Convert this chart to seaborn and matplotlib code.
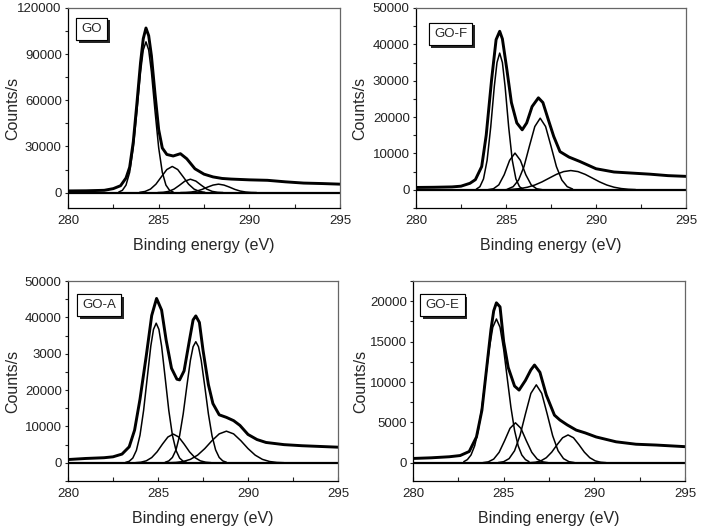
import matplotlib
matplotlib.use("Agg")
import matplotlib.pyplot as plt
import matplotlib.patheffects as pe
from matplotlib.ticker import MultipleLocator
import seaborn as sns

sns.set_style("ticks")
plt.rcParams["font.family"] = ["Liberation Sans", "DejaVu Sans"]

# ---- GO ----
go_env_x = [280, 281, 282, 282.5, 282.9, 283.2, 283.4, 283.6, 283.8, 284.0, 284.15, 284.3, 284.45,
            284.6, 284.8, 285.0, 285.2, 285.45, 285.8, 286.2, 286.55, 287.0, 287.5, 288.0, 288.5,
            289, 290, 291, 292, 293, 294, 295]
go_env_y = [1100, 1200, 1500, 2600, 4500, 9500, 16500, 33000, 58000, 84500, 100000, 107000, 102000,
            89000, 64000, 41000, 29000, 24800, 23800, 25300, 22000, 15500, 12000, 10200, 9200,
            8800, 8300, 8000, 7000, 6200, 5900, 5500]
go_c1_x = [282.8, 283.0, 283.2, 283.4, 283.6, 283.8, 284.0, 284.15, 284.3, 284.45, 284.6, 284.8,
           285.0, 285.2, 285.4, 285.6, 285.8]
go_c1_y = [380, 1500, 4900, 13200, 29200, 52900, 78500, 92700, 98000, 92700, 78500, 52900,
           29200, 13200, 4900, 1500, 380]
go_c2_x = [283.95, 284.25, 284.55, 284.85, 285.15, 285.45, 285.75, 286.05, 286.35, 286.65,
           286.95, 287.25, 287.55]
go_c2_y = [190, 750, 2300, 5500, 10300, 15000, 17000, 15000, 10300, 5500, 2300, 750, 190]
go_c3_x = [284.95, 285.25, 285.55, 285.85, 286.15, 286.45, 286.75, 287.05, 287.35, 287.65,
           287.95, 288.25, 288.55]
go_c3_y = [40, 210, 800, 2300, 4800, 7500, 8700, 7500, 4800, 2300, 800, 210, 40]
go_c4_x = [286.2, 286.5, 286.8, 287.1, 287.4, 287.7, 288.0, 288.3, 288.6, 288.9, 289.2, 289.5,
           289.8, 290.1, 290.4]
go_c4_y = [30, 120, 390, 1000, 2100, 3600, 4900, 5500, 4900, 3600, 2100, 1000, 390, 120, 30]

# ---- GO-F ----
gof_env_x = [280, 281, 282, 282.5, 283.0, 283.3, 283.65, 283.9, 284.2, 284.45, 284.65, 284.8,
             285.05, 285.3, 285.6, 285.9, 286.15, 286.45, 286.8, 287.05, 287.35, 287.65, 288.0,
             288.5, 289.1, 290, 291, 292, 293, 294, 295]
gof_env_y = [650, 700, 800, 1000, 1800, 2800, 6400, 15000, 30300, 41300, 43600, 41500,
             33000, 24000, 18400, 16500, 18400, 22900, 25300, 24000, 19300, 14700, 10500,
             9000, 7800, 5800, 4900, 4600, 4300, 3900, 3700]
gof_c1_x = [283.35, 283.55, 283.75, 283.95, 284.15, 284.35, 284.5, 284.65, 284.8, 284.95,
            285.15, 285.35, 285.55, 285.75, 285.95]
gof_c1_y = [190, 860, 3000, 8100, 17200, 28400, 35000, 37600, 35000, 28400, 17200, 8100,
            3000, 860, 190]
gof_c2_x = [284.0, 284.3, 284.6, 284.9, 285.2, 285.5, 285.8, 286.1, 286.4, 286.7, 287.0]
gof_c2_y = [40, 290, 1360, 4150, 8100, 10100, 8100, 4150, 1360, 290, 40]
gof_c3_x = [285.1, 285.4, 285.7, 286.0, 286.3, 286.6, 286.9, 287.2, 287.5, 287.8, 288.1,
            288.4, 288.7]
gof_c3_y = [220, 870, 2700, 6400, 12000, 17400, 19700, 17400, 12000, 6400, 2700, 870, 220]
gof_c4_x = [285.0, 285.4, 285.8, 286.2, 286.6, 287.0, 287.4, 287.8, 288.2, 288.6, 289.0,
            289.4, 289.8, 290.2, 290.6, 291.0, 291.4, 291.8, 292.2]
gof_c4_y = [60, 150, 350, 720, 1320, 2180, 3220, 4250, 5010, 5300, 5010, 4250, 3220, 2180,
            1320, 720, 350, 150, 60]

# ---- GO-A ----
goa_env_x = [280, 281, 282, 282.5, 283.0, 283.4, 283.7, 284.0, 284.35, 284.65, 284.92, 285.2,
             285.45, 285.75, 286.05, 286.2, 286.45, 286.75, 286.95, 287.1, 287.3, 287.5, 287.8,
             288.05, 288.4, 288.8, 289.2, 289.55, 290.0, 290.5, 291, 292, 293, 294, 295]
goa_env_y = [900, 1200, 1400, 1650, 2400, 4400, 9000, 17500, 29500, 40500, 45200, 42000,
             33800, 26000, 23000, 22800, 25300, 33800, 39300, 40400, 38600, 31000, 21500,
             16300, 13200, 12500, 11600, 10300, 7800, 6400, 5600, 5000, 4700, 4500, 4300]
goa_c1_x = [283.2, 283.4, 283.6, 283.8, 284.0, 284.2, 284.4, 284.6, 284.75, 284.9, 285.05,
            285.2, 285.4, 285.6, 285.8, 286.0, 286.2, 286.4, 286.6]
goa_c1_y = [120, 420, 1310, 3420, 7600, 14400, 23300, 32100, 36700, 38400, 36700, 32100,
            23300, 14400, 7600, 3420, 1310, 420, 120]
goa_c2_x = [283.75, 284.05, 284.35, 284.65, 284.95, 285.25, 285.55, 285.85, 286.15, 286.45,
            286.75, 287.05, 287.35, 287.65, 287.95]
goa_c2_y = [40, 170, 550, 1440, 3030, 5160, 7100, 7900, 7100, 5160, 3030, 1440, 550, 170, 40]
goa_c3_x = [285.4, 285.6, 285.8, 286.0, 286.2, 286.4, 286.6, 286.8, 286.95, 287.1, 287.25,
            287.4, 287.6, 287.8, 288.0, 288.2, 288.4, 288.6, 288.8]
goa_c3_y = [160, 520, 1470, 3560, 7460, 13450, 20980, 28200, 31930, 33300, 31930, 28200,
            20980, 13450, 7460, 3560, 1470, 520, 160]
goa_c4_x = [285.6, 286.0, 286.4, 286.8, 287.2, 287.6, 288.0, 288.4, 288.8, 289.2, 289.6,
            290.0, 290.4, 290.8, 291.2, 291.6, 292.0]
goa_c4_y = [30, 110, 360, 950, 2110, 3920, 6100, 7960, 8700, 7960, 6100, 3920, 2110, 950,
            360, 110, 30]

# ---- GO-E ----
goe_env_x = [280, 281, 282, 282.6, 283.1, 283.5, 283.8, 284.05, 284.3, 284.45, 284.6, 284.8,
             285.0, 285.25, 285.6, 285.85, 286.2, 286.5, 286.7, 287.0, 287.35, 287.8, 288.1,
             288.5, 289.0, 289.5, 290.1, 291.2, 292.3, 293.4, 295]
goe_env_y = [540, 620, 750, 900, 1400, 3200, 6500, 11500, 16500, 18800, 19800, 19300,
             15000, 11800, 9500, 9000, 10200, 11500, 12100, 11200, 8400, 5900, 5300,
             4700, 4050, 3700, 3200, 2600, 2300, 2200, 2000]
goe_c1_x = [282.8, 283.0, 283.2, 283.4, 283.6, 283.8, 284.0, 284.2, 284.4, 284.6, 284.8,
            285.0, 285.2, 285.4, 285.6, 285.8, 286.0, 286.2, 286.4]
goe_c1_y = [140, 400, 970, 2100, 4020, 6870, 10430, 14030, 16770, 17800, 16770, 14030,
            10430, 6870, 4020, 2100, 970, 400, 140]
goe_c2_x = [283.85, 284.15, 284.45, 284.75, 285.05, 285.35, 285.65, 285.95, 286.25, 286.55,
            286.85, 287.15, 287.45]
goe_c2_y = [20, 120, 460, 1300, 2730, 4270, 4950, 4270, 2730, 1300, 460, 120, 20]
goe_c3_x = [284.7, 285.0, 285.3, 285.6, 285.9, 286.2, 286.5, 286.8, 287.1, 287.4, 287.7,
            288.0, 288.3, 288.6, 288.9]
goe_c3_y = [30, 140, 520, 1490, 3370, 6040, 8590, 9650, 8590, 6040, 3370, 1490, 520, 140, 30]
goe_c4_x = [286.45, 286.75, 287.05, 287.35, 287.65, 287.95, 288.25, 288.55, 288.85, 289.15,
            289.45, 289.75, 290.05, 290.35, 290.65]
goe_c4_y = [20, 75, 240, 630, 1320, 2250, 3100, 3450, 3100, 2250, 1320, 630, 240, 75, 20]

# tick labels as printed (the GO-A panel really says "3000")
go_yticks = [0, 30000, 60000, 90000, 120000]
gof_yticks = [0, 10000, 20000, 30000, 40000, 50000]
goa_yticks = [0, 10000, 20000, 30000, 40000, 50000]
goa_yticklabels = ["0", "10000", "20000", "3000", "40000", "50000"]
goe_yticks = [0, 5000, 10000, 15000, 20000]
x_ticks = [280, 285, 290, 295]

W, H = 703, 530
fig = plt.figure(figsize=(W / 100, H / 100), dpi=100)


def rect(l, t, r, b):
    return [l / W, 1 - b / H, (r - l) / W, (b - t) / H]


panels = [
    dict(name="GO", rect=rect(68, 8, 340, 208), env=(go_env_x, go_env_y),
         comps=[(go_c1_x, go_c1_y), (go_c2_x, go_c2_y), (go_c3_x, go_c3_y), (go_c4_x, go_c4_y)],
         ylim=(-10000, 120000), yticks=go_yticks, ylabels=None, minor=15000,
         tag=(0.086, 0.895), ylab=-0.175),
    dict(name="GO-F", rect=rect(416, 8, 686, 208), env=(gof_env_x, gof_env_y),
         comps=[(gof_c1_x, gof_c1_y), (gof_c2_x, gof_c2_y), (gof_c3_x, gof_c3_y), (gof_c4_x, gof_c4_y)],
         ylim=(-5000, 50000), yticks=gof_yticks, ylabels=None, minor=5000,
         tag=(0.128, 0.87), ylab=-0.18),
    dict(name="GO-A", rect=rect(68, 281, 338, 481), env=(goa_env_x, goa_env_y),
         comps=[(goa_c1_x, goa_c1_y), (goa_c2_x, goa_c2_y), (goa_c3_x, goa_c3_y), (goa_c4_x, goa_c4_y)],
         ylim=(-5000, 50000), yticks=goa_yticks, ylabels=goa_yticklabels, minor=5000,
         tag=(0.115, 0.88), ylab=-0.175),
    dict(name="GO-E", rect=rect(413, 281, 685, 481), env=(goe_env_x, goe_env_y),
         comps=[(goe_c1_x, goe_c1_y), (goe_c2_x, goe_c2_y), (goe_c3_x, goe_c3_y), (goe_c4_x, goe_c4_y)],
         ylim=(-2250, 22500), yticks=goe_yticks, ylabels=None, minor=2500,
         tag=(0.108, 0.88), ylab=-0.165),
]

for p in panels:
    ax = fig.add_axes(p["rect"])
    ax.axhline(0, color="black", lw=1.6, zorder=2)
    for cx, cy in p["comps"]:
        sns.lineplot(x=cx, y=cy, ax=ax, color="black", lw=1.1, estimator=None, sort=False,
                     solid_joinstyle="round", solid_capstyle="round")
    sns.lineplot(x=p["env"][0], y=p["env"][1], ax=ax, color="black", lw=2.1,
                 estimator=None, sort=False, solid_joinstyle="round", solid_capstyle="round")

    ax.set_xlim(280, 295)
    ax.set_ylim(*p["ylim"])
    ax.set_xticks(x_ticks)
    ax.xaxis.set_minor_locator(MultipleLocator(2.5))
    ax.set_yticks(p["yticks"])
    if p["ylabels"] is not None:
        ax.set_yticklabels(p["ylabels"])
    ax.yaxis.set_minor_locator(MultipleLocator(p["minor"]))
    ax.tick_params(axis="x", which="both", direction="in", length=3, width=0.8,
                   labelsize=9.5, pad=5, colors="#222222")
    ax.tick_params(axis="y", which="both", direction="out", length=2.5, width=0.8,
                   labelsize=9.5, pad=2, colors="#222222")
    for s in ["left", "bottom"]:
        ax.spines[s].set_color("black")
        ax.spines[s].set_linewidth(0.9)
    for s in ["top", "right"]:
        ax.spines[s].set_color("#666666")
        ax.spines[s].set_linewidth(0.9)

    ax.set_xlabel("Binding energy (eV)", fontsize=11.5)
    ax.set_ylabel("Counts/s", fontsize=11.5)
    ax.xaxis.set_label_coords(0.5, -0.15)
    ax.yaxis.set_label_coords(p["ylab"], 0.5)

    t = ax.text(p["tag"][0], p["tag"][1], p["name"], transform=ax.transAxes,
                ha="center", va="center", fontsize=9.5,
                bbox=dict(boxstyle="square,pad=0.4", fc="white", ec="black", lw=0.8))
    t.get_bbox_patch().set_path_effects(
        [pe.withSimplePatchShadow(offset=(2, -2), shadow_rgbFace="black", alpha=0.85), pe.Normal()])

fig.savefig("out.png", dpi=100)
